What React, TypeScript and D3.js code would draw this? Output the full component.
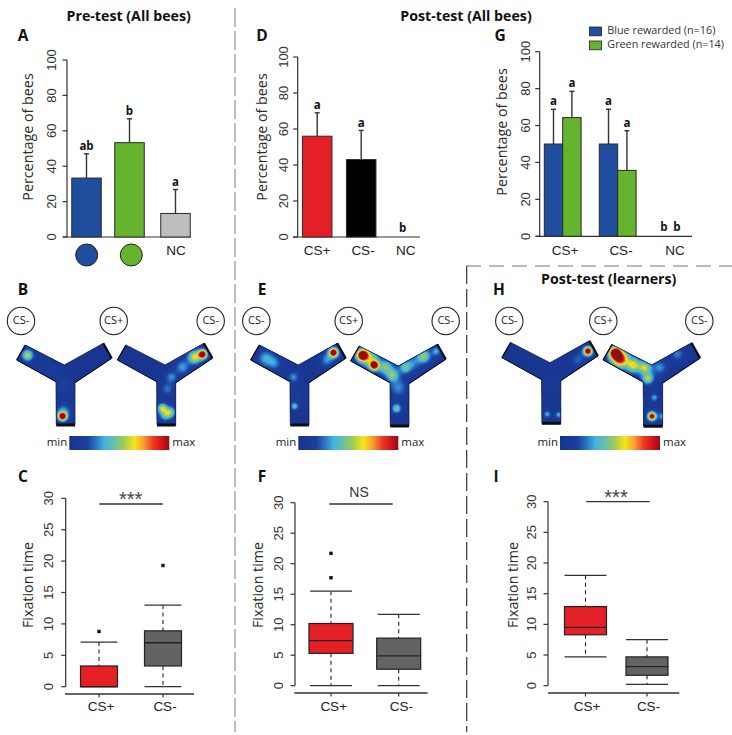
import React, { useMemo } from "react";
import * as d3 from "d3";

// ---------- data ----------
const pctTicks = [0, 20, 40, 60, 80, 100];
const timeTicks = [0, 5, 10, 15, 20, 25, 30];

const colourCats = ["blue", "green", "NC"];
const preValues = [33.3, 53.3, 13.3];
const preErrors = [47, 66.8, 26.8];
const preLetters = ["ab", "b", "a"];

const postCats = ["CS+", "CS-", "NC"];
const postValues = [56, 43, 0];
const postErrors = [69, 59.2, 0];
const postLetters = ["a", "a", "b"];

const blueValues = [50, 50, 0];
const blueErrors = [68.8, 68.8, 0];
const greenValues = [64.3, 35.7, 0];
const greenErrors = [78.5, 57.2, 0];
const blueLetters = ["a", "a", "b"];
const greenLetters = ["a", "a", "b"];

const legendLabels = ["Blue rewarded (n=16)", "Green rewarded (n=14)"];

type Box = { q1: number; med: number; q3: number; lo: number; hi: number; out: number[] };
const boxC: Box[] = [
  { q1: 0, med: 0, q3: 3.3, lo: 0, hi: 7.1, out: [8.8] },
  { q1: 3.3, med: 7, q3: 8.9, lo: 0, hi: 13, out: [19.3] },
];
const boxF: Box[] = [
  { q1: 5.3, med: 7.4, q3: 10.2, lo: 0, hi: 15.5, out: [17.7, 21.7] },
  { q1: 2.7, med: 4.9, q3: 7.8, lo: 0, hi: 11.7, out: [] },
];
const boxI: Box[] = [
  { q1: 8.3, med: 9.5, q3: 12.9, lo: 4.7, hi: 18, out: [] },
  { q1: 1.7, med: 3.1, q3: 4.7, lo: 0.2, hi: 7.5, out: [] },
];
const boxCats = ["CS+", "CS-"];

// heat-map hot spots: local x, local y, intensity, radius
const hotB1 = [[-37, -10, 0.45, 3.6], [-2, 51, 0.95, 2.6], [-1, 45, 0.16, 5], [-1, 20, 0.1, 6], [-15, 2, 0.06, 8]];
const hotB2 = [[37.3, -11, 0.95, 2.6], [29, -8, 0.45, 4.2], [17, 2, 0.22, 4.5], [6, 12, 0.2, 4], [2, 24, 0.18, 4], [-3, 43, 0.42, 3], [5, 47, 0.34, 3.4], [0, 50, 0.26, 3.6]];
const hotE1 = [[35, -12.7, 0.95, 2.8], [28, -5, 0.2, 4.5], [-33, -7, 0.24, 5.5], [-24, -2, 0.18, 4.5], [-5, 11.7, 0.22, 3.6], [-4, 41, 0.3, 2.4], [0, 30, 0.05, 8]];
const hotE2 = [[-36, -11, 0.95, 3.6], [-24.3, -1, 0.9, 2.8], [-29, -9, 0.28, 6], [-13, 1, 0.32, 4.4], [-6, 9, 0.34, 4], [6.7, 1.3, 0.3, 3.6], [25, -10, 0.4, 4.4], [37.7, -15, 0.24, 3], [-2, 42.3, 0.36, 3], [0, 22, 0.2, 6], [14, -3, 0.16, 5]];
const hotH1 = [[37.3, -11.7, 0.95, 2.6], [27, -3, 0.16, 4.5], [-3, 50.7, 0.26, 2.3], [8.3, 51.3, 0.26, 2.3], [1, 20, 0.05, 8]];
const hotH2 = [[-36, -12, 0.95, 3.6], [-31, -6, 0.68, 5], [-18.3, 0, 0.44, 4.4], [-7, 2.3, 0.4, 4], [-4, 13, 0.4, 3.6], [2.3, 31.7, 0.25, 2.6], [0, 50, 0.88, 2.5], [11, 50, 0.26, 2.7], [25, -11, 0.2, 4.5], [8, 2, 0.2, 4.5]];

const heatStops = ["#17328c", "#1c409f", "#2a6fc0", "#41b4e2", "#69bfa6", "#a6cc50", "#f4e61c", "#f9a230", "#ea3a20", "#d9141c", "#8e0c14"];
const heatPos = [0, 0.18, 0.26, 0.35, 0.45, 0.55, 0.65, 0.74, 0.84, 0.92, 1];

const mazeOutline: [number, number][] = [[-39, -20], [-47.6, -5], [-8.3, 16.7], [-8, 60], [10.7, 60], [10.7, 17.7], [47.4, -6.7], [39, -21.7], [0, 0]];

// ---------- shared ----------
const sans = "'Liberation Sans', Arial, sans-serif";
const myriad = "'Open Sans', 'Noto Sans', sans-serif";
const ink = "#333";
const heatColor = d3.scaleLinear<string>().domain(heatPos).range(heatStops).clamp(true);

function Title({ x, y, t }: { x: number; y: number; t: string }) {
  return <text x={x} y={y} textAnchor="middle" dominantBaseline="middle" fontFamily={myriad} fontWeight={700} fontSize={14.2} fill="#111">{t}</text>;
}
function Letter({ x, y, t }: { x: number; y: number; t: string }) {
  return <text x={x} y={y} textAnchor="middle" dominantBaseline="middle" fontFamily={myriad} fontWeight={700} fontSize={15.5} fill="#111">{t}</text>;
}

function YAxis({ scale, ticks, axisX, tickX, labelX, labelY, label }: any) {
  const [r0, r1] = scale.range();
  return (
    <g>
      <line x1={axisX} x2={axisX} y1={r0} y2={r1} stroke={ink} strokeWidth={1.2} />
      {ticks.map((t: number) => (
        <g key={t}>
          <line x1={axisX - 4.5} x2={axisX} y1={scale(t)} y2={scale(t)} stroke={ink} strokeWidth={1.2} />
          <text transform={`translate(${tickX},${scale(t)}) rotate(-90)`} textAnchor="middle" dominantBaseline="middle" fontFamily={sans} fontSize={13} fill="#333">{t}</text>
        </g>
      ))}
      <text transform={`translate(${labelX},${labelY}) rotate(-90)`} textAnchor="middle" dominantBaseline="middle" fontFamily={myriad} fontSize={14.3} fill="#2a2a2a">{label}</text>
    </g>
  );
}

function Bar({ cx, w, value, err, fill, letter, y, capW = 5, lift = 7 }: any) {
  const has = value > 0;
  return (
    <g>
      {has && <line x1={cx} x2={cx} y1={y(value)} y2={y(err)} stroke={ink} strokeWidth={1.4} />}
      {has && <line x1={cx - capW / 2} x2={cx + capW / 2} y1={y(err)} y2={y(err)} stroke={ink} strokeWidth={1.4} />}
      {has && <rect x={cx - w / 2} y={y(value)} width={w} height={y(0) - y(value)} fill={fill} stroke="#2a2a2a" strokeWidth={1} />}
      <text x={cx} y={has ? y(err) - lift : y(0) - 8} textAnchor="middle" dominantBaseline="middle" fontFamily={myriad} fontWeight={700} fontSize={11.5} fill="#111">{letter}</text>
    </g>
  );
}

function BoxPlot({ data, x, y, boxW, capW, fill }: any) {
  return (
    <g>
      {data.map((b: Box, i: number) => {
        const cx = x(boxCats[i]);
        return (
          <g key={i}>
            <line x1={cx} x2={cx} y1={y(b.hi)} y2={y(b.q3)} stroke="#222" strokeWidth={1.1} strokeDasharray="4 3.5" />
            <line x1={cx} x2={cx} y1={y(b.q1)} y2={y(b.lo)} stroke="#222" strokeWidth={1.1} strokeDasharray="4 3.5" />
            <line x1={cx - capW / 2} x2={cx + capW / 2} y1={y(b.hi)} y2={y(b.hi)} stroke={ink} strokeWidth={1.3} />
            <line x1={cx - capW / 2} x2={cx + capW / 2} y1={y(b.lo)} y2={y(b.lo)} stroke={ink} strokeWidth={1.3} />
            <rect x={cx - boxW / 2} y={y(b.q3)} width={boxW} height={y(b.q1) - y(b.q3)} fill={fill[i]} stroke="#222" strokeWidth={1.2} />
            <line x1={cx - boxW / 2} x2={cx + boxW / 2} y1={y(b.med)} y2={y(b.med)} stroke="#222" strokeWidth={1.3} />
            {b.out.map((o) => <rect key={o} x={cx - 1.7} y={y(o) - 1.7} width={3.4} height={3.4} fill="#111" />)}
          </g>
        );
      })}
    </g>
  );
}

function Boxes({ data, axisX, y30, y0, baseY, baseX0, baseX1, centers, boxW, capW, tickX, labelX, labelOffset, sig, sigText, sigTextX, sigTextY }: any) {
  const y = d3.scaleLinear().domain([0, 30]).range([y0, y30]);
  const x = d3.scaleOrdinal<string, number>().domain(boxCats).range(centers);
  const stars = sigText !== "NS";
  return (
    <g>
      <YAxis scale={y} ticks={timeTicks} axisX={axisX} tickX={tickX} labelX={labelX} labelY={585} label="Fixation time" />
      <line x1={baseX0} x2={baseX1} y1={baseY} y2={baseY} stroke={ink} strokeWidth={1.3} />
      {boxCats.map((c) => (
        <g key={c}>
          <line x1={x(c)} x2={x(c)} y1={baseY} y2={baseY + 3.5} stroke={ink} strokeWidth={1.2} />
          <text x={x(c) + labelOffset} y={707.6} textAnchor="middle" dominantBaseline="middle" fontFamily={sans} fontSize={13.5} fill="#222">{c}</text>
        </g>
      ))}
      <BoxPlot data={data} x={x} y={y} boxW={boxW} capW={capW} fill={["#e41f26", "#636363"]} />
      <line x1={sig[0]} x2={sig[1]} y1={sig[2]} y2={sig[2]} stroke={ink} strokeWidth={1.3} />
      {stars
        ? <text x={sigTextX} y={sigTextY + 12} textAnchor="middle" fontFamily={sans} fontSize={20} fill="#444">{sigText}</text>
        : <text x={sigTextX} y={sigTextY} textAnchor="middle" dominantBaseline="middle" fontFamily={sans} fontSize={14} fill="#333">{sigText}</text>}
    </g>
  );
}

function Maze({ id, ox, oy, k = 1, hot }: { id: string; ox: number; oy: number; k?: number; hot: number[][] }) {
  const paths = useMemo(() => {
    const x0 = -55, y0 = -30, n = 220, m = 190;
    const vals = new Float64Array(n * m);
    for (let j = 0; j < m; j++) for (let i = 0; i < n; i++) {
      const px = x0 + i / 2, py = y0 + j / 2;
      let v = 0.05;
      for (const [hx, hy, a, r] of hot) {
        const d2 = (px - hx) ** 2 + (py - hy) ** 2;
        v += a * Math.exp(-d2 / (2 * r * r)) + a * 0.22 * Math.exp(-d2 / (8 * r * r));
      }
      vals[j * n + i] = v;
    }
    const levels = d3.range(0.06, 1.04, 0.025);
    const cs = d3.contours().size([n, m]).thresholds(levels)(Array.from(vals));
    const gp = d3.geoPath();
    return cs.map((c) => ({ d: gp(c) as string, c: heatColor(c.value) }));
  }, [hot]);
  const poly = mazeOutline.map((p) => p.join(",")).join(" ");
  const seg = (a: number, b: number, w: number, key: string) => (
    <line key={key} x1={mazeOutline[a][0]} y1={mazeOutline[a][1]} x2={mazeOutline[b][0]} y2={mazeOutline[b][1]} stroke="#0c0c14" strokeWidth={w} strokeLinecap="butt" />
  );
  return (
    <g transform={`translate(${ox},${oy}) scale(${k})`}>
      <clipPath id={id}><polygon points={poly} /></clipPath>
      <g clipPath={`url(#${id})`}>
        <rect x={-55} y={-30} width={110} height={95} fill={heatColor(0.04)} />
        <g transform="translate(-55,-30) scale(0.5)">
          {paths.map((p, i) => <path key={i} d={p.d} fill={p.c} />)}
        </g>
      </g>
      <polygon points={poly} fill="none" stroke="#14204d" strokeWidth={0.8} />
      {seg(0, 1, 1.2, "a")}
      {seg(3, 4, 3, "b")}
      {seg(6, 7, 2.2, "c")}
      {seg(5, 6, 1, "d")}
      {seg(1, 2, 0.8, "e")}
    </g>
  );
}

function Stim({ cx, t }: { cx: number; t: string }) {
  return (
    <g>
      <circle cx={cx} cy={321} r={13.7} fill="#fff" stroke="#222" strokeWidth={1.1} />
      <text x={cx} y={321} textAnchor="middle" dominantBaseline="middle" fontFamily={myriad} fontSize={11} fill="#222">{t}</text>
    </g>
  );
}

function ColorBar({ x0, grad }: { x0: number; grad: string }) {
  return (
    <g>
      <rect x={x0} y={436} width={100} height={14} fill={`url(#${grad})`} />
      <text x={x0 - 2} y={443} textAnchor="end" dominantBaseline="middle" fontFamily={myriad} fontSize={11.5} fill="#222">min</text>
      <text x={x0 + 103} y={443} dominantBaseline="middle" fontFamily={myriad} fontSize={11.5} fill="#222">max</text>
    </g>
  );
}

function CatLabel({ x, t }: { x: number; t: string }) {
  return <text x={x} y={251} textAnchor="middle" dominantBaseline="middle" fontFamily={sans} fontSize={13.5} fill="#222">{t}</text>;
}

export default function App() {
  const yA = d3.scaleLinear().domain([0, 100]).range([237, 60]);
  const yD = d3.scaleLinear().domain([0, 100]).range([237, 57]);
  const yG = d3.scaleLinear().domain([0, 100]).range([236.3, 51.7]);
  const xA = d3.scaleOrdinal<string, number>().domain(colourCats).range([86.5, 129.5, 175.5]);
  const xD = d3.scaleOrdinal<string, number>().domain(postCats).range([317.2, 361.2, 402.7]);
  const xG = d3.scaleOrdinal<string, number>().domain(postCats).range([562.7, 617.7, 670.5]);
  const preFill = ["#1f4e9e", "#66b32e", "#bdbdbd"];
  const postFill = ["#e41f26", "#000", "#000"];
  const gradStops = heatPos.map((p, i) => <stop key={i} offset={`${p * 100}%`} stopColor={heatStops[i]} />);
  return (
    <svg width={732} height={735} style={{ position: "absolute", left: 0, top: 0, background: "#fff" }}>
      <defs>
        <linearGradient id="heatGrad" x1="0" x2="1" y1="0" y2="0">{gradStops}</linearGradient>
      </defs>

      {/* dividers */}
      <line x1={235} x2={235} y1={8} y2={732} stroke="#9a9a9a" strokeWidth={1.3} strokeDasharray="19 4" />
      <line x1={466.7} x2={466.7} y1={266} y2={732} stroke="#333" strokeWidth={1.2} strokeDasharray="18 5" />
      <line x1={466} x2={732} y1={266} y2={266} stroke="#777" strokeWidth={1.2} strokeDasharray="15 8" />

      <Title x={128.7} y={17.5} t="Pre-test (All bees)" />
      <Title x={466} y={17.5} t="Post-test (All bees)" />
      <Title x={608.7} y={280} t="Post-test (learners)" />

      <Letter x={23} y={37} t="A" /><Letter x={23} y={291} t="B" /><Letter x={23} y={478} t="C" />
      <Letter x={262} y={37} t="D" /><Letter x={262} y={291} t="E" /><Letter x={262} y={478} t="F" />
      <Letter x={500} y={37} t="G" /><Letter x={499} y={291} t="H" /><Letter x={496} y={478} t="I" />

      {/* A */}
      <YAxis scale={yA} ticks={pctTicks} axisX={67} tickX={53} labelX={29} labelY={137} label="Percentage of bees" />
      <line x1={63} x2={191} y1={237} y2={237} stroke={ink} strokeWidth={1.2} />
      {colourCats.map((c, i) => <Bar key={c} cx={xA(c)} w={29.5} value={preValues[i]} err={preErrors[i]} fill={preFill[i]} letter={preLetters[i]} y={yA} />)}
      <circle cx={86.7} cy={255} r={11} fill="#1f4e9e" stroke="#222" strokeWidth={1} />
      <circle cx={131.3} cy={255} r={11} fill="#66b32e" stroke="#222" strokeWidth={1} />
      <CatLabel x={176} t="NC" />

      {/* D */}
      <YAxis scale={yD} ticks={pctTicks} axisX={297.7} tickX={285} labelX={263} labelY={137} label="Percentage of bees" />
      <line x1={293} x2={420} y1={237} y2={237} stroke={ink} strokeWidth={1.2} />
      {postCats.map((c, i) => <Bar key={c} cx={xD(c)} w={29.5} value={postValues[i]} err={postErrors[i]} fill={postFill[i]} letter={postLetters[i]} y={yD} />)}
      <CatLabel x={317} t="CS+" /><CatLabel x={363} t="CS-" /><CatLabel x={405.7} t="NC" />

      {/* G */}
      <YAxis scale={yG} ticks={pctTicks} axisX={539.7} tickX={526.7} labelX={503} labelY={132} label="Percentage of bees" />
      <line x1={536} x2={692} y1={236.3} y2={236.3} stroke={ink} strokeWidth={1.2} />
      {postCats.map((c, i) => {
        const off = i === 2 ? 6.5 : 9.2;
        return (
          <g key={c}>
            <Bar cx={xG(c) - off} w={18.4} value={blueValues[i]} err={blueErrors[i]} fill="#1f4e9e" letter={blueLetters[i]} y={yG} capW={5} />
            <Bar cx={xG(c) + off} w={18.4} value={greenValues[i]} err={greenErrors[i]} fill="#66b32e" letter={greenLetters[i]} y={yG} capW={5} />
          </g>
        );
      })}
      <CatLabel x={565} t="CS+" /><CatLabel x={621} t="CS-" /><CatLabel x={675} t="NC" />

      {/* legend */}
      {legendLabels.map((l, i) => (
        <g key={l}>
          <rect x={589.5} y={27 + i * 14} width={12} height={8.8} fill={i ? "#66b32e" : "#1f4e9e"} stroke="#222" strokeWidth={0.8} />
          <text x={607.3} y={31.5 + i * 14} dominantBaseline="middle" fontFamily={myriad} fontSize={10.8} fill="#333">{l}</text>
        </g>
      ))}

      {/* stimuli */}
      <Stim cx={21} t="CS-" /><Stim cx={113.7} t="CS+" /><Stim cx={210.7} t="CS-" />
      <Stim cx={256.3} t="CS-" /><Stim cx={348.7} t="CS+" /><Stim cx={445.7} t="CS-" />
      <Stim cx={509.3} t="CS-" /><Stim cx={603.3} t="CS+" /><Stim cx={699.3} t="CS-" />

      {/* maps */}
      <Maze id="b1" ox={64.3} oy={365} hot={hotB1} />
      <Maze id="b2" ox={165} oy={365} hot={hotB2} />
      <Maze id="e1" ox={298.3} oy={365} hot={hotE1} />
      <Maze id="e2" ox={398.3} oy={366} hot={hotE2} />
      <Maze id="h1" ox={550} oy={362.7} k={1.01} hot={hotH1} />
      <Maze id="h2" ox={651.7} oy={365} k={1.02} hot={hotH2} />

      <ColorBar x0={69.3} grad="heatGrad" />
      <ColorBar x0={298.3} grad="heatGrad" />
      <ColorBar x0={560} grad="heatGrad" />

      {/* box plots */}
      <Boxes data={boxC} axisX={65.7} y30={498.3} y0={686.7} baseY={694} baseX0={65} baseX1={194} centers={[99, 163]} boxW={37} capW={37} tickX={50} labelX={29} labelOffset={2} sig={[99.3, 162.7, 504]} sigText="***" sigTextX={130.7} sigTextY={494} />
      <Boxes data={boxF} axisX={295} y30={502.7} y0={685.7} baseY={693} baseX0={294.3} baseX1={427.7} centers={[331, 398.7]} boxW={44} capW={42} tickX={280} labelX={259} labelOffset={2.7} sig={[329.3, 392.7, 504]} sigText="NS" sigTextX={359} sigTextY={493} />
      <Boxes data={boxI} axisX={548} y30={501.7} y0={685.7} baseY={693} baseX0={548} baseX1={679.3} centers={[585.5, 647]} boxW={42} capW={42} tickX={533} labelX={514} labelOffset={1.5} sig={[586.3, 649.7, 501.7]} sigText="***" sigTextX={616} sigTextY={492} />
    </svg>
  );
}
